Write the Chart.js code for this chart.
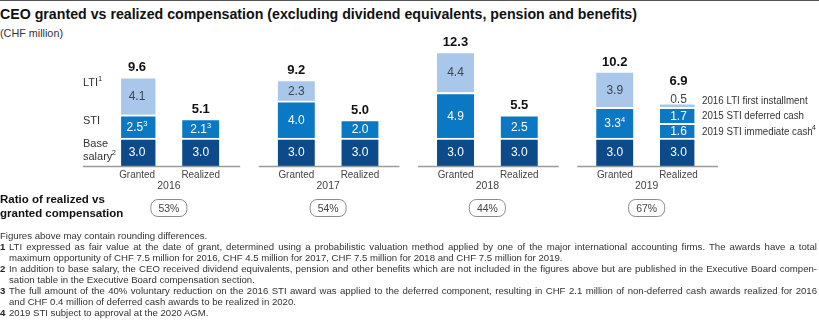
<!DOCTYPE html>
<html>
<head>
<meta charset="utf-8">
<script src="https://cdn.jsdelivr.net/npm/chart.js@4/dist/chart.umd.min.js"></script>
<style>
  html, body { margin: 0; padding: 0; background: #fff; }
  body { width: 819px; height: 336px; position: relative; overflow: hidden; font-family: "Liberation Sans", Arial, sans-serif; color: #222; }
  #rule { position: absolute; left: 0; top: 0; width: 819px; height: 1px; background: #555; }
  #title { position: absolute; left: 0; top: 6px; font-size: 14.2px; font-weight: bold; color: #111; white-space: nowrap; }
  #unit { position: absolute; left: 0; top: 27px; font-size: 10.8px; color: #333; }
  #chart { position: absolute; left: 0; top: 0; }
  #notes { position: absolute; left: 0; top: 229.5px; width: 817px; font-size: 9.6px; line-height: 11.1px; color: #333; }
  #notes div { white-space: nowrap; }
  #notes .j { text-align: justify; text-align-last: justify; white-space: normal; }
  #notes .ind { padding-left: 9px; }
  #notes b { display: inline-block; width: 9px; margin-left: -9px; color: #222; }
</style>
</head>
<body>
<div id="rule"></div>
<div id="title">CEO granted vs realized compensation (excluding dividend equivalents, pension and benefits)</div>
<div id="unit">(CHF million)</div>
<canvas id="chart" width="819" height="336"></canvas>
<div id="notes">
  <div>Figures above may contain rounding differences.</div>
  <div class="j ind"><b>1</b>LTI expressed as fair value at the date of grant, determined using a probabilistic valuation method applied by one of the major international accounting firms. The awards have a total</div>
  <div class="ind">maximum opportunity of CHF 7.5 million for 2016, CHF 4.5 million for 2017, CHF 7.5 million for 2018 and CHF 7.5 million for 2019.</div>
  <div class="j ind"><b>2</b>In addition to base salary, the CEO received dividend equivalents, pension and other benefits which are not included in the figures above but are published in the Executive Board compen-</div>
  <div class="ind">sation table in the Executive Board compensation section.</div>
  <div class="j ind"><b>3</b>The full amount of the 40% voluntary reduction on the 2016 STI award was applied to the deferred component, resulting in CHF 2.1 million of non-deferred cash awards realized for 2016</div>
  <div class="ind">and CHF 0.4 million of deferred cash awards to be realized in 2020.</div>
  <div class="ind"><b>4</b>2019 STI subject to approval at the 2020 AGM.</div>
</div>
<script>
const years = ['2016', '2017', '2018', '2019'];
const grantedBase = [3.0, 3.0, 3.0, 3.0];
const grantedSTI = [2.5, 4.0, 4.9, 3.3];
const grantedLTI = [4.1, 2.3, 4.4, 3.9];
const grantedTotal = [9.6, 9.2, 12.3, 10.2];
const grantedSTINote = ['3', '', '', '4'];
const realizedBase = [3.0, 3.0, 3.0, 3.0];
const realizedSTI = [2.1, 2.0, 2.5, 1.6];
const realizedSTIDeferred = [null, null, null, 1.7];
const realizedLTI = [null, null, null, 0.5];
const realizedTotal = [5.1, 5.0, 5.5, 6.9];
const realizedSTINote = ['3', '', '', ''];
const ratio = [53, 54, 44, 67];
const barNames = ['Granted', 'Realized'];
const seriesNames = ['LTI', 'STI', 'Base', 'salary'];
const sideNames = ['2016 LTI first installment', '2015 STI deferred cash', '2019 STI immediate cash'];

const NAVY = '#0c4a8a';
const MID = '#0a78c2';
const LIGHT = '#a9c7ea';
const FONT = '"Liberation Sans", Arial, sans-serif';

// 5 slots per year: Granted, gap, Realized, gap, gap
const SLOTS = 5;
const labels = [];
years.forEach((y, i) => {
  labels.push(barNames[0], y, barNames[1]);
  if (i < years.length - 1) labels.push('', '');
});
function slots(g, r) {
  const out = new Array(labels.length).fill(null);
  years.forEach((y, i) => {
    out[i * SLOTS] = g ? g[i] : null;
    out[i * SLOTS + 2] = r ? r[i] : null;
  });
  return out;
}

function bar(label, data, color, textColor) {
  return {
    label: label,
    data: data,
    backgroundColor: color,
    borderColor: '#fff',
    borderWidth: { top: 2, left: 0, right: 0, bottom: 0 },
    borderSkipped: false,
    barThickness: 37,
    textColor: textColor
  };
}

// text with optional horizontal squeeze
function txt(ctx, s, x, y, squeeze) {
  const w = ctx.measureText(s).width;
  if (squeeze && squeeze < 1) ctx.fillText(s, x, y, w * squeeze);
  else ctx.fillText(s, x, y);
}

function sup(ctx, text, note, x, y, size) {
  ctx.font = size + 'px ' + FONT;
  const w = ctx.measureText(text).width;
  ctx.font = '7.5px ' + FONT;
  const nw = note ? ctx.measureText(note).width : 0;
  const sx = x - (w + nw) / 2;
  ctx.font = size + 'px ' + FONT;
  ctx.textAlign = 'left';
  ctx.fillText(text, sx, y);
  if (note) {
    ctx.font = '7.5px ' + FONT;
    ctx.fillText(note, sx + w, y - 3.5);
  }
}

const labelPlugin = {
  id: 'labels',
  afterDatasetsDraw(chart) {
    const ctx = chart.ctx;
    const xs = chart.scales.x, ys = chart.scales.y;
    const base = ys.getPixelForValue(0);
    const tops = {};
    ctx.save();
    ctx.textBaseline = 'middle';

    // values inside segments
    chart.data.datasets.forEach((ds, di) => {
      const meta = chart.getDatasetMeta(di);
      meta.data.forEach((el, i) => {
        const v = ds.data[i];
        if (v == null) return;
        ctx.fillStyle = ds.textColor;
        let cy = (el.y + el.base) / 2 + 1;
        let top = el.y;
        if (el.base - el.y < 10) {
          cy = el.y - 3;
          top = el.y - 12;
        }
        tops[i] = Math.min(tops[i] == null ? Infinity : tops[i], top);
        const yi = Math.floor(i / SLOTS);
        let note = '';
        if (di === 1) note = (i % SLOTS === 0 ? grantedSTINote : realizedSTINote)[yi];
        sup(ctx, v.toFixed(1), note, el.x, cy, 12);
      });
    });

    years.forEach((y, i) => {
      const gi = i * SLOTS, ri = i * SLOTS + 2;
      const gx = xs.getPixelForValue(gi);
      const rx = xs.getPixelForValue(ri);
      const mx = (gx + rx) / 2;

      // totals
      ctx.fillStyle = '#111';
      ctx.textAlign = 'center';
      ctx.font = 'bold 13px ' + FONT;
      ctx.fillText(grantedTotal[i].toFixed(1), gx, Math.min(ys.getPixelForValue(grantedTotal[i]), tops[gi]) - 9);
      ctx.fillText(realizedTotal[i].toFixed(1), rx, Math.min(ys.getPixelForValue(realizedTotal[i]), tops[ri]) - 9);

      // axis line per year
      ctx.strokeStyle = '#9a9a9a';
      ctx.lineWidth = 1.5;
      ctx.beginPath();
      ctx.moveTo(i === 0 ? 83 : gx - 37.5, base + 0.5);
      ctx.lineTo(rx + 39.5, base + 0.5);
      ctx.stroke();

      // category + year labels
      ctx.fillStyle = '#444';
      ctx.font = '11px ' + FONT;
      txt(ctx, barNames[0], gx, base + 9, 0.9);
      txt(ctx, barNames[1], rx, base + 9, 0.9);
      txt(ctx, y, mx, base + 20, 0.95);

      // ratio pill
      const py = 208, pw = 36, ph = 17;
      ctx.beginPath();
      ctx.roundRect(mx - pw / 2, py - ph / 2, pw, ph, 7);
      ctx.strokeStyle = '#8a8a8a';
      ctx.lineWidth = 1;
      ctx.stroke();
      ctx.font = '11px ' + FONT;
      txt(ctx, ratio[i] + '%', mx, py + 0.5, 0.95);
    });

    // series names on the left, aligned with 2016 granted segments
    const segTop = di => chart.getDatasetMeta(di).data[0].y;
    ctx.fillStyle = '#333';
    ctx.textAlign = 'left';
    ctx.font = '11px ' + FONT;
    ctx.fillText(seriesNames[0], 83, segTop(3) + 6);
    const lw = ctx.measureText(seriesNames[0]).width;
    ctx.font = '7.5px ' + FONT;
    ctx.fillText('1', 83 + lw, segTop(3) + 2);
    ctx.font = '11px ' + FONT;
    ctx.fillText(seriesNames[1], 83, segTop(1) + 6);
    ctx.fillText(seriesNames[2], 83, segTop(0) + 6);
    ctx.fillText(seriesNames[3], 83, segTop(0) + 19);
    const sw = ctx.measureText(seriesNames[3]).width;
    ctx.font = '7.5px ' + FONT;
    ctx.fillText('2', 83 + sw - 0.5, segTop(0) + 15);

    // side labels for 2019 realized
    const ri = (years.length - 1) * SLOTS + 2;
    const sx = 702;
    [3, 2, 1].forEach((di, k) => {
      const el = chart.getDatasetMeta(di).data[ri];
      ctx.font = '10.5px ' + FONT;
      ctx.fillStyle = '#333';
      let cy = (el.y + el.base) / 2 + 1;
      if (k === 0) cy = el.y - 2;
      const w = ctx.measureText(sideNames[k]).width * 0.93;
      txt(ctx, sideNames[k], sx, cy, 0.93);
      if (k === 2) {
        ctx.font = '7.5px ' + FONT;
        ctx.fillText('4', sx + w - 1, cy - 3.5);
      }
    });

    // ratio caption
    ctx.fillStyle = '#111';
    ctx.font = 'bold 11.5px ' + FONT;
    ctx.fillText('Ratio of realized vs', 0, 200);
    ctx.fillText('granted compensation', 0, 213.5);
    ctx.restore();
  }
};

new Chart(document.getElementById('chart'), {
  type: 'bar',
  data: {
    labels: labels,
    datasets: [
      bar('Base salary', slots(grantedBase, realizedBase), NAVY, '#fff'),
      bar('STI', slots(grantedSTI, realizedSTI), MID, '#fff'),
      bar('STI deferred', slots(null, realizedSTIDeferred), MID, '#fff'),
      bar('LTI', slots(grantedLTI, realizedLTI), LIGHT, '#3c4650')
    ]
  },
  options: {
    responsive: false,
    animation: false,
    devicePixelRatio: 1,
    layout: { padding: { left: 121.1, right: 124.6, top: 45.1, bottom: 170 } },
    plugins: { legend: { display: false }, tooltip: { enabled: false } },
    scales: {
      x: { stacked: true, display: false },
      y: { stacked: true, display: false, min: 0, max: 13 }
    }
  },
  plugins: [labelPlugin]
});
</script>
</body>
</html>
